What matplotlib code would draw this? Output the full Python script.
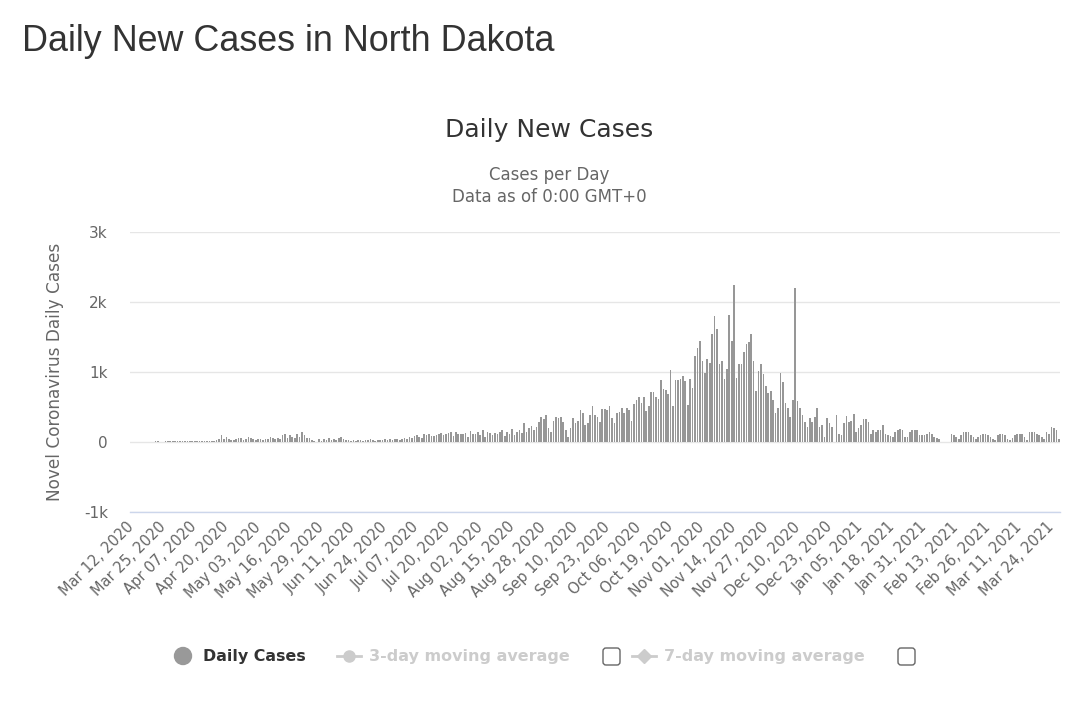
import matplotlib
matplotlib.use("Agg")
import matplotlib.pyplot as plt
from matplotlib.patches import FancyBboxPatch, Circle
import numpy as np
import pandas as pd

# ---------------- data (daily new cases, North Dakota) ----------------
start_date = "2020-03-12"

cases_mar_apr = [0, 1, 0, 0, 2, 3, 3, 4, 5, 4, 8, 9, 5, 7, 10, 11, 14, 12, 9, 12,
                 11, 15, 13, 10, 14, 12, 19, 16, 15, 20, 14, 9, 17, 20, 16, 26, 40, 97, 50]
cases_apr_may = [70, 45, 30, 25, 40, 55, 60, 35, 48, 65, 58, 40, 30, 45, 50, 35, 38]
cases_may = [48, 72, 55, 40, 58, 50, 97, 120, 60, 97, 75, 55, 120, 72, 145, 97, 60, 55, 30, 8, 5]
cases_jun = [40, 20, 45, 30, 55, 25, 50, 35, 60, 70, 45, 30, 25, 20, 30, 15, 25, 35, 20, 30,
             25, 40, 30, 20, 35, 25, 30, 40, 35, 45, 30, 40, 50, 35, 45, 55, 40]
cases_jul_aug = [70, 55, 85, 95, 75, 60, 110, 100, 120, 90, 80, 105, 115, 130, 95, 120, 130, 140, 90, 150,
                 120, 110, 120, 125, 72, 160, 120, 120, 145, 97, 170, 72, 145, 130, 100, 130, 120, 145, 170, 90,
                 150, 120, 180, 100, 140, 170, 125]
cases_aug_sep = [265, 150, 195, 230, 175, 215, 290, 360, 330, 390, 195, 145, 300, 360, 340, 360, 290, 170, 72, 200,
                 340, 265, 300, 460, 410, 240, 265, 380, 510, 390, 360, 290, 470, 470, 460, 510, 340, 265, 410]
cases_oct = [430, 480, 410, 480, 460, 300, 540, 600, 650, 560, 640, 440, 520, 715, 720, 640, 610, 885, 760, 740,
             680, 1030, 510, 880, 890, 900, 940, 870, 530, 895]
cases_nov = [775, 1230, 1350, 1450, 1160, 990, 1180, 1135, 1550, 1800, 1620, 1110, 1160, 895, 1040, 1810, 1450,
             2250, 920, 1110, 1110, 1280, 1400, 1425, 1550, 1160, 725, 1015, 1110, 965, 800, 700, 725]
cases_dec = [600, 410, 480, 990, 860, 555, 480, 360, 600, 2200, 580, 480, 385, 290, 215, 340, 290, 360, 480, 215,
             240, 70, 340, 265, 215, 0, 385, 120, 95, 265, 375, 290, 300, 395, 145, 195, 240]
cases_2021 = [330, 330, 290, 120, 170, 145, 170, 170, 240, 120, 95, 80, 70, 145, 170, 190, 170, 70, 70, 145,
              170, 170, 170, 95, 95, 95, 120, 145, 120, 70, 60, 50, 5, 3, 3, 5, 120, 95, 70, 50,
              100, 145, 145, 145, 95, 70, 50, 70, 95, 120, 120, 95, 70, 50, 25, 95, 120, 120, 95, 50,
              25, 60, 95, 120, 120, 120, 70, 25, 145, 145, 145, 120, 95, 70, 50, 145, 120, 215, 195, 170, 50]

cases = (cases_mar_apr + cases_apr_may + cases_may + cases_jun + cases_jul_aug +
         cases_aug_sep + cases_oct + cases_nov + cases_dec + cases_2021)
dates = pd.date_range(start_date, periods=len(cases), freq="D")
label_step = 13
y_ticks = [-1000, 0, 1000, 2000, 3000]
y_tick_labels = ["-1k", "0", "1k", "2k", "3k"]

# ---------------- figure ----------------
W, H = 1089, 711
fig = plt.figure(figsize=(W / 100, H / 100), dpi=100)
fig.patch.set_facecolor("white")

ax = fig.add_axes([130 / W, 1 - 512 / H, 930 / W, 280 / H])
x = np.arange(len(cases))
ax.bar(x, cases, width=0.68, color="#979797", linewidth=0, zorder=3)
ax.set_xlim(-0.5, len(cases) - 0.5)
ax.set_ylim(-1000, 3000)

ax.set_yticks(y_ticks)
ax.set_yticklabels(y_tick_labels)
ax.yaxis.grid(True, color="#e6e6e6", linewidth=1.0, zorder=0)
ax.tick_params(axis="y", length=0, pad=16, labelsize=11, labelcolor="#666666")

tick_idx = x[::label_step]
ax.set_xticks(tick_idx)
ax.set_xticklabels([d.strftime("%b %d, %Y") for d in dates[::label_step]])
ax.tick_params(axis="x", length=0, pad=9, labelsize=10.5, labelcolor="#666666")
for lab in ax.get_xticklabels():
    lab.set_rotation(45)
    lab.set_horizontalalignment("right")
    lab.set_verticalalignment("center")
    lab.set_rotation_mode("anchor")

for s in ["top", "right", "left"]:
    ax.spines[s].set_visible(False)
ax.spines["bottom"].set_color("#ccd6eb")
ax.spines["bottom"].set_linewidth(1.0)

# ---------------- titles ----------------
fig.text(22 / W, 1 - 51 / H, "Daily New Cases in North Dakota", fontsize=25.8,
         family="Liberation Sans", color="#333333", ha="left", va="baseline")
fig.text(549 / W, 1 - 137 / H, "Daily New Cases", fontsize=18, color="#333333",
         ha="center", va="baseline")
fig.text(549 / W, 1 - 180 / H, "Cases per Day", fontsize=12, color="#666666",
         ha="center", va="baseline")
fig.text(549 / W, 1 - 202 / H, "Data as of 0:00 GMT+0", fontsize=12, color="#666666",
         ha="center", va="baseline")
fig.text(55 / W, 1 - 372 / H, "Novel Coronavirus Daily Cases", fontsize=12.2,
         color="#666666", rotation=90, ha="center", va="center")

# ---------------- legend (drawn in pixel coords) ----------------
ov = fig.add_axes([0, 0, 1, 1], zorder=5)
ov.set_xlim(0, W)
ov.set_ylim(H, 0)
ov.axis("off")
ov.patch.set_alpha(0)

ly = 656
ov.add_patch(Circle((183, ly), 8.5, color="#999999"))
ov.text(203, ly, "Daily Cases", fontsize=11.4, fontweight="bold", color="#333333",
        ha="left", va="center")

ov.plot([337, 361], [ly, ly], color="#cccccc", linewidth=2)
ov.plot([349], [ly], marker="o", markersize=8, color="#cccccc")
ov.text(369, ly, "3-day moving average", fontsize=11.5, fontweight="bold",
        color="#cccccc", ha="left", va="center")
ov.add_patch(FancyBboxPatch((603, ly - 8), 17, 17, boxstyle="round,pad=0,rounding_size=3",
                            facecolor="white", edgecolor="#666666", linewidth=1.0))

ov.plot([632, 656], [ly, ly], color="#cccccc", linewidth=2)
ov.plot([644], [ly], marker="D", markersize=7, color="#cccccc")
ov.text(664, ly, "7-day moving average", fontsize=11.5, fontweight="bold",
        color="#cccccc", ha="left", va="center")
ov.add_patch(FancyBboxPatch((898, ly - 8), 17, 17, boxstyle="round,pad=0,rounding_size=3",
                            facecolor="white", edgecolor="#666666", linewidth=1.0))

fig.savefig("out.png", dpi=100, facecolor="white")
